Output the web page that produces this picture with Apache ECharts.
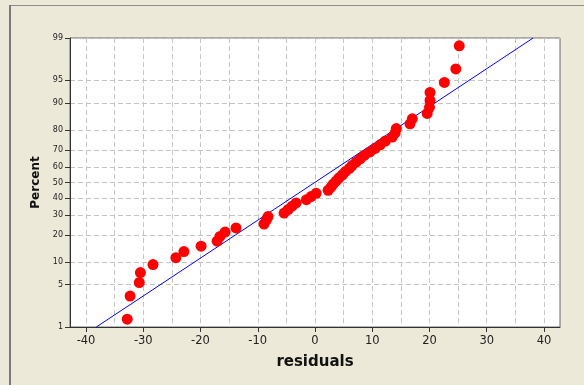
<!DOCTYPE html>
<html><head><meta charset="utf-8">
<script src="https://cdn.jsdelivr.net/npm/echarts@6/dist/echarts.min.js"></script>
<style>html,body{margin:0;padding:0;background:#ECE9D8;} #c{width:584px;height:385px;}</style>
</head><body><div id="c"></div>
<script>
// ---- data ----
const residuals = [-32.8,-32.3,-30.7,-30.5,-28.3,-24.3,-22.9,-19.9,-17.1,-16.6,
  -15.7,-13.8,-8.9,-8.5,-8.2,-5.4,-4.7,-4.0,-3.3,-1.5,
  -0.7,0.2,2.3,2.8,3.2,3.7,4.2,4.8,5.3,6.0,
  6.5,7.2,7.9,8.6,9.6,10.5,11.4,12.3,13.5,14.0,
  14.2,16.6,17.0,19.6,20.0,20.1,20.1,22.6,24.6,25.2];
const percents = [1.39,3.37,5.36,7.34,9.33,11.31,13.29,15.28,17.26,19.25,
  21.23,23.21,25.20,27.18,29.17,31.15,33.13,35.12,37.10,39.09,
  41.07,43.06,45.04,47.02,49.01,50.99,52.98,54.96,56.94,58.93,
  60.91,62.90,64.88,66.87,68.85,70.83,72.82,74.80,76.79,78.77,
  80.75,82.74,84.72,86.71,88.69,90.67,92.66,94.64,96.63,98.61];
const fitLineX = [-38.2, 38.1];
const fitLineP = [1, 99];
const xTickLabels = [-40,-30,-20,-10,0,10,20,30,40];
const xGridValues = [-40,-35,-30,-25,-20,-15,-10,-5,0,5,10,15,20,25,30,35,40];
const yTickPercents = [1,5,10,20,30,40,50,60,70,80,90,95,99];
const xMin = -42.8, xMax = 42.8;

// probit (inverse normal CDF) used as the y-axis scale transform
function probit(p){
  const a=[-3.969683028665376e+01,2.209460984245205e+02,-2.759285104469687e+02,1.383577518672690e+02,-3.066479806614716e+01,2.506628277459239e+00];
  const b=[-5.447609879822406e+01,1.615858368580409e+02,-1.556989798598866e+02,6.680131188771972e+01,-1.328068155288572e+01];
  const c=[-7.784894002430293e-03,-3.223964580411365e-01,-2.400758277161838e+00,-2.549732539343734e+00,4.374664141464968e+00,2.938163982698783e+00];
  const d=[7.784695709041462e-03,3.224671290700398e-01,2.445134137142996e+00,3.754408661907416e+00];
  const pl=0.02425, ph=1-pl; let q,r;
  if(p<pl){q=Math.sqrt(-2*Math.log(p));return (((((c[0]*q+c[1])*q+c[2])*q+c[3])*q+c[4])*q+c[5])/((((d[0]*q+d[1])*q+d[2])*q+d[3])*q+1);}
  if(p<=ph){q=p-0.5;r=q*q;return (((((a[0]*r+a[1])*r+a[2])*r+a[3])*r+a[4])*r+a[5])*q/(((((b[0]*r+b[1])*r+b[2])*r+b[3])*r+b[4])*r+1);}
  q=Math.sqrt(-2*Math.log(1-p));return -(((((c[0]*q+c[1])*q+c[2])*q+c[3])*q+c[4])*q+c[5])/((((d[0]*q+d[1])*q+d[2])*q+d[3])*q+1);
}
const z = p => probit(p/100);
const yTickZ = yTickPercents.map(z);
const yMin = z(yTickPercents[0]), yMax = z(yTickPercents[yTickPercents.length-1]);

const FONT = 'DejaVu Sans';
const gridLine = {show:true, lineStyle:{color:'#c4c4c4', width:1, type:[5,3]}};

const chart = echarts.init(document.getElementById('c'), null, {renderer:'canvas'});
chart.setOption({
  backgroundColor:'#ECE9D8',
  animation:false,
  graphic:[
    {type:'line', shape:{x1:10, y1:5.5, x2:584, y2:5.5}, style:{stroke:'#8c8c8c', lineWidth:1}, silent:true},
    {type:'line', shape:{x1:10, y1:5, x2:10, y2:385}, style:{stroke:'#7a7a7a', lineWidth:2}, silent:true}
  ],
  grid:{left:70, top:38, right:24, bottom:58, show:true, backgroundColor:'#ffffff', borderColor:'#6a6a6a', borderWidth:1},
  xAxis:[{
    type:'value', min:xMin, max:xMax,
    name:'residuals', nameLocation:'middle', nameGap:28,
    nameTextStyle:{fontFamily:FONT, fontWeight:'bold', fontSize:15, color:'#111'},
    axisLine:{show:true, onZero:false, lineStyle:{color:'#333', width:1}},
    axisTick:{show:true, length:5, customValues:xTickLabels, lineStyle:{color:'#333'}},
    axisLabel:{customValues:xTickLabels, margin:8, fontFamily:FONT, fontSize:11.5, color:'#222'},
    splitLine:{show:false}
  },{
    type:'value', min:xMin, max:xMax, position:'bottom',
    axisLine:{show:false}, axisLabel:{show:false},
    axisTick:{show:false, customValues:xGridValues},
    splitLine:gridLine
  }],
  yAxis:{
    type:'value', min:yMin, max:yMax,
    name:'Percent', nameLocation:'middle', nameGap:23,
    nameTextStyle:{fontFamily:FONT, fontWeight:'bold', fontSize:12, color:'#111'},
    axisLine:{show:true, onZero:false, lineStyle:{color:'#333', width:1}},
    axisTick:{show:true, length:5, customValues:yTickZ, lineStyle:{color:'#333'}},
    axisLabel:{customValues:yTickZ, margin:7, fontFamily:FONT, fontSize:8, color:'#222',
      formatter:function(v){
        for(let i=0;i<yTickZ.length;i++){ if(Math.abs(yTickZ[i]-v)<1e-9) return String(yTickPercents[i]); }
        return '';
      }},
    splitLine:gridLine
  },
  series:[{
    type:'line', xAxisIndex:0, z:2, symbol:'none', silent:true,
    lineStyle:{color:'#0000ff', width:1},
    data:fitLineX.map((x,i)=>[x, z(fitLineP[i])])
  },{
    type:'scatter', xAxisIndex:0, z:3, symbol:'circle', symbolSize:11, silent:true,
    itemStyle:{color:'#ff0000', opacity:1},
    data:residuals.map((x,i)=>[x, z(percents[i])])
  }]
});
</script>
</body></html>
